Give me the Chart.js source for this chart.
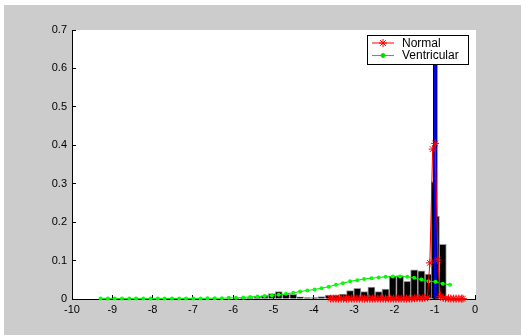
<!DOCTYPE html>
<html>
<head>
<meta charset="utf-8">
<script src="https://cdn.jsdelivr.net/npm/chart.js@4/dist/chart.umd.min.js"></script>
<style>
  html, body { margin: 0; padding: 0; background: #fff; }
  #wrap { position: absolute; left: 4px; top: 5px; width: 517px; height: 330px; background: #cccccc; }
</style>
</head>
<body>
<div id="wrap"><canvas id="chart" width="517" height="330"></canvas></div>
<script>
// Bin centres shared by the ventricular histogram and its fitted curve
const binCenters = [
  -9.29, -9.11, -8.94, -8.76, -8.58, -8.41, -8.23, -8.05, -7.87, -7.70,
  -7.52, -7.34, -7.17, -6.99, -6.81, -6.64, -6.46, -6.28, -6.11, -5.93,
  -5.75, -5.58, -5.40, -5.22, -5.04, -4.87, -4.69, -4.51, -4.34, -4.16,
  -3.98, -3.81, -3.63, -3.45, -3.28, -3.10, -2.92, -2.75, -2.57, -2.39,
  -2.22, -2.04, -1.86, -1.68, -1.51, -1.33, -1.15, -0.98, -0.80, -0.62
];
const ventricularHist = [
  0, 0, 0, 0, 0, 0, 0, 0, 0, 0,
  0, 0, 0, 0, 0, 0, 0, 0, 0, 0.001,
  0.002, 0.004, 0.005, 0.009, 0.014, 0.019, 0.012, 0.012, 0.0056, 0.004,
  0.004, 0.0065, 0.01, 0.01, 0.0125, 0.022, 0.028, 0.019, 0.031, 0.019,
  0.026, 0.059, 0.061, 0.046, 0.076, 0.073, 0.065, 0.2, 0.142, 0
];
const ventricularCurve = [
  0.001, 0.001, 0.001, 0.001, 0.001, 0.001, 0.001, 0.001, 0.001, 0.001,
  0.0015, 0.0015, 0.0015, 0.0015, 0.0015, 0.002, 0.002, 0.002, 0.003, 0.003,
  0.004, 0.0055, 0.0065, 0.0075, 0.009, 0.011, 0.0135, 0.016, 0.0195, 0.022,
  0.025, 0.028, 0.032, 0.037, 0.041, 0.046, 0.049, 0.052, 0.054, 0.056,
  0.0576, 0.0584, 0.0584, 0.0576, 0.055, 0.0506, 0.046, 0.0446, 0.040, 0.037
];

// Normal beats: narrow histogram bars and the fitted curve
const normalHistX = [-1.05, -0.92];
const normalHistY = [0.305, 0.215];
const spikeX = [-0.985];
const spikeY = [0.68];

const normalX = [
  -3.58, -3.52, -3.45, -3.39, -3.32, -3.26, -3.19, -3.13, -3.06, -3.00,
  -2.93, -2.87, -2.80, -2.74, -2.67, -2.61, -2.54, -2.48, -2.41, -2.35,
  -2.28, -2.22, -2.15, -2.09, -2.02, -1.96, -1.89, -1.83, -1.76, -1.70,
  -1.63, -1.57, -1.50, -1.44, -1.37, -1.31, -1.24, -1.18, -1.12, -1.05,
  -0.99, -0.92, -0.86, -0.79, -0.73, -0.66, -0.60, -0.53, -0.47, -0.40,
  -0.34, -0.30
];
const normalY = [
  0.001, 0.001, 0.001, 0.001, 0.001, 0.001, 0.001, 0.001, 0.001, 0.001,
  0.001, 0.001, 0.001, 0.001, 0.001, 0.001, 0.001, 0.001, 0.001, 0.001,
  0.001, 0.001, 0.001, 0.001, 0.001, 0.001, 0.001, 0.001, 0.001, 0.001,
  0.001, 0.001, 0.002, 0.002, 0.002, 0.002, 0.003, 0.004, 0.094, 0.390,
  0.405, 0.102, 0.007, 0.003, 0.002, 0.002, 0.001, 0.001, 0.001, 0.001,
  0.001, 0.001
];

const xTicks = [-10, -9, -8, -7, -6, -5, -4, -3, -2, -1, 0];
const yTicks = [0, 0.1, 0.2, 0.3, 0.4, 0.5, 0.6, 0.7];

const legendItems = [
  { text: "Normal", color: "#ff0000", style: "star", radius: 4 },
  { text: "Ventricular", color: "#00e000", style: "circle", radius: 2 }
];

const FONT = "'Liberation Sans', Arial, sans-serif";

function toPoints(xs, ys) {
  return xs.map((x, i) => ({ x: x, y: ys[i] })).filter(p => p.y !== 0);
}

// white plot area inside the grey figure
const plotBackground = {
  id: "plotBackground",
  beforeDraw(chart) {
    const a = chart.chartArea;
    chart.ctx.save();
    chart.ctx.fillStyle = "#ffffff";
    chart.ctx.fillRect(a.left, a.top, a.right - a.left + 1, a.bottom - a.top);
    chart.ctx.restore();
  }
};

// boxed legend inside the axes, top right
const legendBox = {
  id: "legendBox",
  afterDatasetsDraw(chart) {
    const ctx = chart.ctx;
    const a = chart.chartArea;
    const w = 101, h = 29;
    const x = Math.round(a.right - 7 - w), y = Math.round(a.top + 5);
    ctx.save();
    ctx.fillStyle = "#fff";
    ctx.fillRect(x, y, w, h);
    ctx.strokeStyle = "#000";
    ctx.lineWidth = 1;
    ctx.strokeRect(x + 0.5, y + 0.5, w, h);
    ctx.font = "12px " + FONT;
    ctx.textBaseline = "middle";
    legendItems.forEach((item, i) => {
      const ly = y + 8 + i * 12.5;
      ctx.strokeStyle = item.color;
      ctx.fillStyle = item.color;
      ctx.beginPath();
      ctx.moveTo(x + 5, ly);
      ctx.lineTo(x + 27, ly);
      ctx.stroke();
      Chart.helpers.drawPoint(ctx, { pointStyle: item.style, radius: item.radius, borderWidth: 1, rotation: 0 }, x + 16, ly);
      ctx.fillStyle = "#000";
      ctx.fillText(item.text, x + 35, ly + 0.5);
    });
    ctx.restore();
  }
};

const ctx = document.getElementById("chart").getContext("2d");
new Chart(ctx, {
  type: "bar",
  data: {
    datasets: [
      {
        type: "line",
        label: "Normal",
        data: toPoints(normalX, normalY),
        borderColor: "#ff0000",
        borderWidth: 1,
        pointStyle: "star",
        pointRadius: 4,
        pointBorderColor: "#ff0000",
        pointBorderWidth: 1,
        tension: 0,
        fill: false,
        clip: 8,
        order: 0
      },
      {
        type: "line",
        label: "Ventricular",
        data: toPoints(binCenters, ventricularCurve),
        borderColor: "#00e000",
        borderWidth: 1,
        pointStyle: "circle",
        pointRadius: 2,
        pointBackgroundColor: "#00ff00",
        pointBorderColor: "#00e000",
        pointBorderWidth: 0,
        tension: 0,
        fill: false,
        clip: 8,
        order: 1
      },
      {
        label: "Spike",
        data: toPoints(spikeX, spikeY),
        backgroundColor: "#0000ff",
        borderColor: "#000000",
        borderWidth: 1,
        borderSkipped: false,
        barThickness: 4,
        grouped: false,
        clip: 0,
        order: 2
      },
      {
        label: "Normal histogram",
        data: toPoints(normalHistX, normalHistY),
        backgroundColor: "#000000",
        borderColor: "#8a8a8a",
        borderWidth: 1,
        barThickness: 3,
        grouped: false,
        clip: 0,
        order: 3
      },
      {
        label: "Ventricular histogram",
        data: toPoints(binCenters, ventricularHist),
        backgroundColor: "#000000",
        borderColor: "#9a9a9a",
        borderWidth: 1,
        barThickness: 7.1,
        grouped: false,
        clip: 0,
        order: 4
      }
    ]
  },
  options: {
    responsive: false,
    animation: false,
    layout: { padding: { left: 0, right: 46, top: 25, bottom: 0 } },
    plugins: {
      legend: { display: false },
      tooltip: { enabled: false }
    },
    scales: {
      x: {
        type: "linear",
        min: -10,
        max: 0,
        offset: false,
        afterFit: scale => { scale.height = 36; },
        afterBuildTicks: scale => { scale.ticks = xTicks.map(v => ({ value: v })); },
        grid: { display: true, drawOnChartArea: false, drawTicks: true, tickLength: -4, color: "#000", offset: false },
        border: { display: true, color: "#000", width: 1 },
        ticks: {
          font: { family: FONT, size: 11 },
          color: "#000",
          padding: 8,
          maxRotation: 0,
          autoSkip: false,
          callback: v => String(v)
        }
      },
      y: {
        min: 0,
        max: 0.7,
        afterFit: scale => { scale.width = 68; },
        afterBuildTicks: scale => { scale.ticks = yTicks.map(v => ({ value: v })); },
        grid: { display: true, drawOnChartArea: false, drawTicks: true, tickLength: -4, color: "#000" },
        border: { display: true, color: "#000", width: 1 },
        ticks: {
          font: { family: FONT, size: 11 },
          color: "#000",
          padding: 9,
          callback: v => (v === 0 ? "0" : v.toFixed(1))
        }
      }
    }
  },
  plugins: [plotBackground, legendBox]
});
</script>
</body>
</html>
